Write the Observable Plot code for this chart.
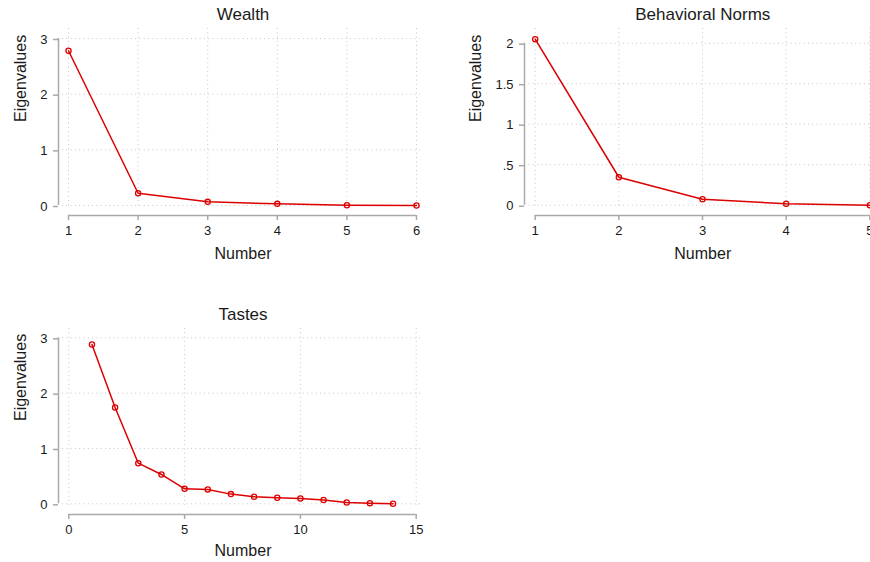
<!DOCTYPE html>
<html><head><meta charset="utf-8">
<script src="https://cdn.jsdelivr.net/npm/d3@7"></script>
<script src="https://cdn.jsdelivr.net/npm/@observablehq/plot@0.6"></script>
<style>
body{margin:0;background:#fff;}
#wrap{position:relative;width:870px;height:562px;overflow:hidden;background:#fff;}
#wrap svg{position:absolute;}
</style></head><body><div id="wrap"></div>
<script>
// ---- data ----
const wealthNumber = [1, 2, 3, 4, 5, 6];
const wealthEigen = [2.78, 0.22, 0.066, 0.03, 0.005, 0.0];
const normsNumber = [1, 2, 3, 4, 5];
const normsEigen = [2.05, 0.345, 0.074, 0.017, 0.0];
const tastesNumber = [1, 2, 3, 4, 5, 6, 7, 8, 9, 10, 11, 12, 13, 14];
const tastesEigen = [2.88, 1.74, 0.734, 0.53, 0.27, 0.26, 0.175, 0.127, 0.108, 0.096, 0.068, 0.024, 0.012, 0.0];

const wealthXTicks = [1, 2, 3, 4, 5, 6];
const wealthYTicks = [0, 1, 2, 3];
const normsXTicks = [1, 2, 3, 4, 5];
const normsYTicks = [0, 0.5, 1, 1.5, 2];
const tastesXTicks = [0, 5, 10, 15];
const tastesYTicks = [0, 1, 2, 3];

const titles = ["Wealth", "Behavioral Norms", "Tastes"];
const xLabel = "Number";
const yLabel = "Eigenvalues";

// ---- styling ----
const FONT = "'Liberation Sans', Arial, Helvetica, sans-serif";
const RED = "#dc0000";
const AXIS = "#a9a9a9";
const TEXT = "#1a1a1a";
const stataFmt = d => String(d).replace(/^0\./, ".");

function panel(cfg) {
  const data = cfg.xs.map((x, i) => ({x, y: cfg.ys[i]}));
  const [mt, mr, mb, ml] = cfg.margin;
  const [it, ir, ib, il] = cfg.inset;
  const grid = {stroke: "#c6c6c6", strokeOpacity: 1, strokeDasharray: "1,3.3", strokeWidth: 1};
  const xT = cfg.xTicks, yT = cfg.yTicks;
  const svg = Plot.plot({
    width: cfg.width, height: cfg.height,
    marginTop: mt, marginRight: mr, marginBottom: mb, marginLeft: ml,
    style: {fontFamily: FONT, fontSize: "13px", color: TEXT, background: "transparent", overflow: "visible"},
    x: {domain: [xT[0], xT[xT.length - 1]], insetLeft: il, insetRight: ir, axis: null},
    y: {domain: [yT[0], yT[yT.length - 1]], insetTop: it, insetBottom: ib, axis: null},
    marks: [
      Plot.gridX(xT, grid),
      Plot.gridY(yT, grid),
      Plot.ruleX([xT[0]], {y1: yT[0], y2: yT[yT.length - 1], dx: -(il + cfg.axisGap), stroke: AXIS, strokeWidth: 1.5}),
      Plot.ruleY([yT[0]], {x1: xT[0], x2: xT[xT.length - 1], dy: cfg.xLineGap, stroke: AXIS, strokeWidth: 1.5}),
      Plot.axisY(yT, {anchor: "left", dx: -cfg.axisGap, dy: 1, tickSize: 5, tickPadding: 6, tickFormat: stataFmt,
        label: null, stroke: AXIS, strokeWidth: 1.5, fill: TEXT, fontSize: 13}),
      Plot.axisX(xT, {anchor: "bottom", dy: cfg.xLineGap - ib, tickSize: 5, tickPadding: 5,
        label: null, stroke: AXIS, strokeWidth: 1.5, fill: TEXT, fontSize: 13}),
      Plot.line(data, {x: "x", y: "y", stroke: RED, strokeWidth: 1.5}),
      Plot.dot(data, {x: "x", y: "y", r: 2.6, stroke: RED, strokeWidth: 1.3, fill: "none"}),
      Plot.text([cfg.title], {text: d => d, frameAnchor: "top", lineAnchor: "middle", dy: cfg.titleDy, fontSize: 17, fill: TEXT}),
      Plot.text([xLabel], {text: d => d, frameAnchor: "bottom", lineAnchor: "middle", dy: cfg.xLabelDy, fontSize: 16, fill: TEXT}),
      Plot.text([yLabel], {text: d => d, frameAnchor: "left", lineAnchor: "middle", dx: cfg.yLabelDx, dy: 4, rotate: -90, fontSize: 16, fill: TEXT})
    ]
  });
  svg.style.left = cfg.left + "px";
  svg.style.top = cfg.top + "px";
  document.getElementById("wrap").appendChild(svg);
}

panel({title: titles[0], xs: wealthNumber, ys: wealthEigen, xTicks: wealthXTicks, yTicks: wealthYTicks,
  left: 0, top: 0, width: 435, height: 270, margin: [28, 12, 63, 62], inset: [10, 7, 2, 6],
  axisGap: 4, xLineGap: 10, titleDy: -14, xLabelDy: 46, yLabelDx: -42});

panel({title: titles[1], xs: normsNumber, ys: normsEigen, xTicks: normsXTicks, yTicks: normsYTicks,
  left: 435, top: 0, width: 450, height: 270, margin: [28, 9, 63, 93.5], inset: [14.7, 6.7, 2.3, 6.2],
  axisGap: 4.5, xLineGap: 10.3, titleDy: -14, xLabelDy: 46, yLabelDx: -53.5});

panel({title: titles[2], xs: tastesNumber, ys: tastesEigen, xTicks: tastesXTicks, yTicks: tastesYTicks,
  left: 0, top: 290, width: 435, height: 272, margin: [38, 12, 57, 62], inset: [9.3, 7.3, 1.7, 6.3],
  axisGap: 4, xLineGap: 10.7, titleDy: -14, xLabelDy: 45, yLabelDx: -42});
</script></body></html>
